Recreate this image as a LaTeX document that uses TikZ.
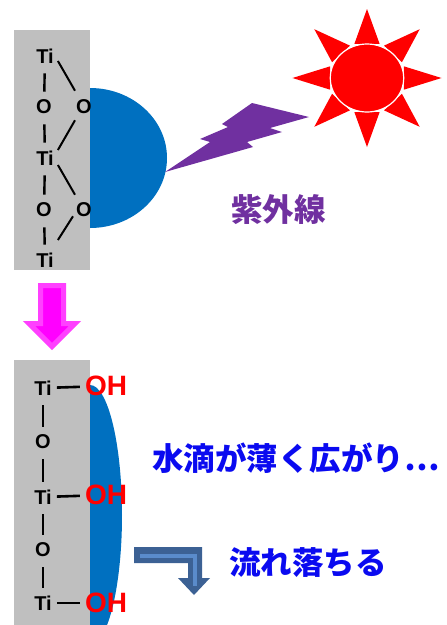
\documentclass[tikz,border=0pt]{standalone}
\usepackage{fontspec}
\setmainfont{Liberation Sans}
\newfontfamily\jpfont{Noto Sans CJK JP}[BoldFont={* Black}]

\definecolor{plate}{HTML}{BFBFBF}
\definecolor{drop}{HTML}{0070C0}
\definecolor{uv}{HTML}{7030A0}
\definecolor{pinkarrow}{HTML}{FF00FF}
\definecolor{pinkedge}{HTML}{FF40FF}
\definecolor{flow}{HTML}{3C6194}
\definecolor{flowlight}{HTML}{5A8BCB}
\definecolor{jpblue}{HTML}{0A0AF0}

\begin{document}
\begin{tikzpicture}[
        x=1pt, y=-1pt
    ]
    \tikzset{
        atom/.style = {inner sep=0pt, font=\bfseries\fontsize{20}{24}\selectfont},
        oh/.style = {inner sep=0pt, text=red, font=\bfseries\fontsize{28}{32}\selectfont},
        bond/.style = {-, line width=2.4pt, shorten <=10pt, shorten >=8pt},
        slant/.style = {-, line width=2pt},
        side/.style = {-, line width=2.6pt, shorten <=5pt, shorten >=5pt},
        jp/.style = {inner sep=0pt, anchor=west, font=\jpfont\bfseries\fontsize{31.5}{36}\selectfont},
    }
    \useasboundingbox (0,0) rectangle (447,625);
    %
    % before: plate, round drop, sun
    \fill[plate] (14,30) rectangle (90,270);
    \fill[drop] (90,88) arc[start angle=-90, end angle=90, x radius=77, y radius=70] -- cycle;
    \node[atom] at (45,56) (ti1) {Ti};
    \node[atom] at (44,107) (o1) {O};
    \node[atom] at (84,107) (or1) {O};
    \node[atom] at (45,158) (ti2) {Ti};
    \node[atom] at (44,210) (o2) {O};
    \node[atom] at (84,210) (or2) {O};
    \node[atom] at (45,260) (ti3) {Ti};
    %
    \draw[bond] (ti1) -- (o1);
    \draw[bond] (o1) -- (ti2);
    \draw[bond] (ti2) -- (o2);
    \draw[bond] (o2) -- (ti3);
    \draw[slant] ([shift={(4,5)}]ti1.east) -- ([shift={(-9,-9)}]or1.north);
    \draw[slant] ([shift={(-9,6)}]or1.south) -- ([shift={(4,-8)}]ti2.east);
    \draw[slant] ([shift={(4,7)}]ti2.east) -- ([shift={(-9,-8)}]or2.north);
    \draw[slant] ([shift={(-11,-1)}]or2.south) -- ([shift={(4,-20)}]ti3.east);
    %
    \begin{scope}[shift={(367,78)}, xscale=1.08]
        \foreach \a in {0,45,...,315}
            \fill[red] (\a:69) -- (\a+19:36) -- (\a-19:36) -- cycle;
        \fill[red, draw=white, line width=1.2pt] (0,0) circle (34);
    \end{scope}
    \fill[uv] (165,172) -- (210,142) -- (200,139) -- (228,127) -- (222,124)
        -- (252,103) -- (309,117) -- (270,128) -- (282,132) -- (247,142)
        -- (253,147) -- cycle;
    \node[jp, text=uv] at (231,210) (uvlabel) {紫外線};
    %
    \fill[pinkarrow, draw=pinkedge, line width=5pt, line join=miter]
        (40.5,285.5) -- (63.5,285.5) -- (63.5,323.5) -- (75,323.5) -- (52,346.5)
        -- (29,323.5) -- (40.5,323.5) -- cycle;
    %
    % after: flat drop and OH groups
    \fill[plate] (14,360) rectangle (90,625);
    \begin{scope}
        \clip (90,370) rectangle (140,625);
        \fill[drop] (90,515) ellipse[x radius=32, y radius=130];
    \end{scope}
    \node[atom] at (43,388) (bti1) {Ti};
    \node[atom] at (43,442) (bo1) {O};
    \node[atom] at (43,497) (bti2) {Ti};
    \node[atom] at (43,550) (bo2) {O};
    \node[atom] at (43,603) (bti3) {Ti};
    \node[oh] at (106,386) (oh1) {OH};
    \node[oh] at (106,495) (oh2) {OH};
    \node[oh] at (106,603) (oh3) {OH};
    %
    \draw[bond] (bti1) -- (bo1);
    \draw[bond] (bo1) -- (bti2);
    \draw[bond] (bti2) -- (bo2);
    \draw[bond] (bo2) -- (bti3);
    \draw[side] (bti1) -- (oh1);
    \draw[side] (bti2) -- (oh2);
    \draw[side] (bti3) -- (oh3);
    %
    \node[jp, text=jpblue] at (152,458) (spread) {水滴が薄く広がり…};
    \node[jp, text=jpblue] at (229,563) (falls) {流れ落ちる};
    %
    \fill[flow] (134,547) -- (202,547) -- (202,578) -- (210,578) -- (194,595)
        -- (178,578) -- (188,578) -- (188,563) -- (134,563) -- cycle;
    \draw[flowlight, line width=4pt] (140,555.5) -- (195,555.5) -- (195,586);
\end{tikzpicture}
\end{document}
